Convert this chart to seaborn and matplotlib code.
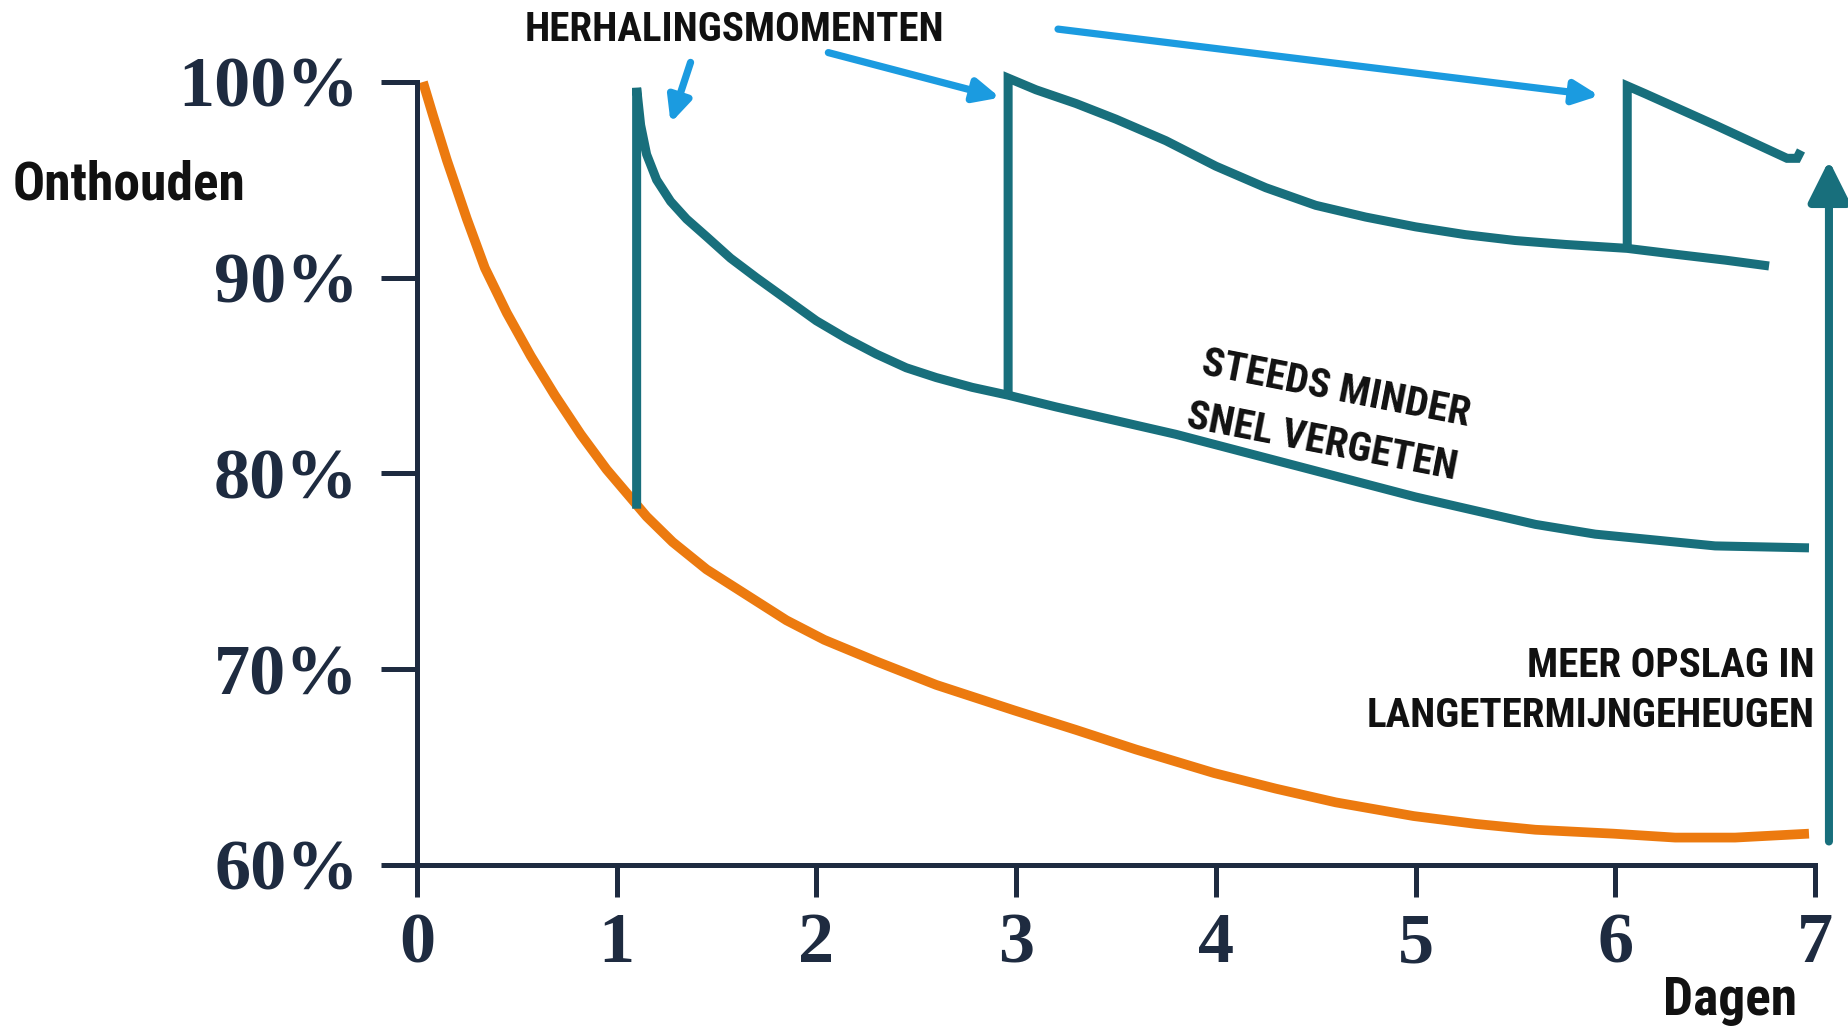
import matplotlib
matplotlib.use("Agg")
import matplotlib.pyplot as plt
import seaborn as sns
import pandas as pd

# ---------------- data ----------------
orange_days = [0.03, 0.08, 0.15, 0.25, 0.34, 0.45, 0.57, 0.69, 0.82, 0.95, 1.05, 1.15, 1.28,
               1.45, 1.65, 1.85, 2.04, 2.3, 2.6, 2.99, 3.3, 3.6, 3.99, 4.3, 4.6, 4.99, 5.3,
               5.6, 5.99, 6.3, 6.6, 6.97]
orange_vals = [100.0, 98.3, 96.0, 93.0, 90.5, 88.2, 86.0, 84.0, 82.0, 80.2, 79.0, 77.8, 76.5,
               75.1, 73.8, 72.5, 71.5, 70.4, 69.2, 67.9, 66.9, 65.9, 64.7, 63.9, 63.2, 62.5,
               62.1, 61.8, 61.6, 61.4, 61.4, 61.6]

teal_a_days = [1.10, 1.10, 1.12, 1.15, 1.2, 1.27, 1.35, 1.45, 1.57, 1.7, 1.85, 2.0, 2.15, 2.3,
               2.45, 2.6, 2.78, 2.96, 3.2, 3.5, 3.8, 4.1, 4.4, 4.7, 5.0, 5.3, 5.6, 5.9, 6.2,
               6.5, 6.97]
teal_a_vals = [78.2, 99.7, 97.8, 96.3, 95.0, 93.9, 93.0, 92.1, 91.0, 90.0, 88.9, 87.8, 86.9,
               86.1, 85.4, 84.9, 84.4, 84.0, 83.4, 82.7, 82.0, 81.2, 80.4, 79.6, 78.8, 78.1,
               77.4, 76.9, 76.6, 76.3, 76.2]

teal_b_days = [2.96, 2.96, 3.1, 3.3, 3.5, 3.75, 4.0, 4.25, 4.5, 4.75, 5.0, 5.25, 5.5, 5.75,
               6.06, 6.3, 6.55, 6.77]
teal_b_vals = [84.0, 100.2, 99.6, 98.9, 98.1, 97.0, 95.7, 94.6, 93.7, 93.1, 92.6, 92.2, 91.9,
               91.7, 91.5, 91.2, 90.9, 90.6]

teal_c_days = [6.06, 6.06, 6.15, 6.5, 6.86, 6.91, 6.93]
teal_c_vals = [91.5, 99.8, 99.4, 97.8, 96.1, 96.1, 96.5]

x_ticks = [0, 1, 2, 3, 4, 5, 6, 7]
y_ticks = [60, 70, 80, 90, 100]
y_tick_labels = ["60%", "70%", "80%", "90%", "100%"]

# long-term storage arrow (day, start %, end %)
storage_arrow = (7.07, 61.2, 96.0)
# review-moment arrows: (x_from, y_from, x_to, y_to)
review_arrows = [(1.37, 101.0, 1.27, 97.9),
                 (2.06, 101.5, 2.92, 99.2),
                 (3.21, 102.7, 5.92, 99.3)]

# ---------------- style ----------------
NAVY = "#1e2b40"
TEAL = "#186f7c"
ORANGE = "#ec7a0f"
BLUE = "#1b9be0"
ANN = ["Roboto Condensed", "DejaVu Sans"]
TICKF = ["Liberation Serif", "DejaVu Serif"]
TXT = dict(fontweight="bold", color="#111111", family=ANN, fontstretch="condensed")

sns.set_theme(style="white")
plt.rcParams["font.family"] = ANN

fig = plt.figure(figsize=(18.49, 10.29), dpi=100)
ax = fig.add_axes([0.2255, 0.1594, 0.7723, 0.818])

df_o = pd.DataFrame({"day": orange_days, "val": orange_vals})
sns.lineplot(data=df_o, x="day", y="val", ax=ax, sort=False, estimator=None,
             color=ORANGE, linewidth=7, solid_capstyle="butt", solid_joinstyle="round")
for d, v in [(teal_a_days, teal_a_vals), (teal_b_days, teal_b_vals), (teal_c_days, teal_c_vals)]:
    df = pd.DataFrame({"day": d, "val": v})
    sns.lineplot(data=df, x="day", y="val", ax=ax, sort=False, estimator=None,
                 color=TEAL, linewidth=6.5, solid_capstyle="butt", solid_joinstyle="miter")

ax.set_xlim(0, 7.15)
ax.set_ylim(60, 103)
ax.set_xlabel("")
ax.set_ylabel("")
for s in ["top", "right"]:
    ax.spines[s].set_visible(False)
for s in ["left", "bottom"]:
    ax.spines[s].set_color(NAVY)
    ax.spines[s].set_linewidth(3.6)
ax.spines["left"].set_bounds(60, 100)
ax.spines["bottom"].set_bounds(0, 7)

ax.set_xticks(x_ticks)
ax.set_xticklabels([str(t) for t in x_ticks])
ax.set_yticks(y_ticks)
ax.set_yticklabels(y_tick_labels)
ax.tick_params(axis="y", direction="out", length=26, width=3.6, color=NAVY, pad=16,
               left=True)
ax.tick_params(axis="x", direction="out", length=23, width=3.6, color=NAVY, pad=11,
               bottom=True)
for lab in ax.get_xticklabels() + ax.get_yticklabels():
    lab.set_family(TICKF)
    lab.set_fontweight("bold")
    lab.set_fontsize(52)
    lab.set_color(NAVY)

# storage arrow
x_s, y0, y1 = storage_arrow
ax.annotate("", xy=(x_s, y1), xytext=(x_s, y0), xycoords="data",
            arrowprops=dict(arrowstyle="-|>,head_length=25,head_width=12.5",
                            mutation_scale=1, color=TEAL, linewidth=5.8,
                            shrinkA=0, shrinkB=0),
            annotation_clip=False)
# review arrows
for xf, yf, xt, yt in review_arrows:
    ax.annotate("", xy=(xt, yt), xytext=(xf, yf), xycoords="data",
                arrowprops=dict(arrowstyle="-|>,head_length=15,head_width=7",
                                mutation_scale=1, color=BLUE, linewidth=5.2,
                                shrinkA=0, shrinkB=0),
                annotation_clip=False)

# texts
fig.text(0.397, 0.960, "HERHALINGSMOMENTEN", ha="center", va="baseline", fontsize=29.5, **TXT)
fig.text(0.007, 0.820, "Onthouden", ha="left", va="center", fontsize=38.5, **TXT)
fig.text(0.972, 0.0136, "Dagen", ha="right", va="baseline", fontsize=38.5, **TXT)
fig.text(0.9816, 0.342, "MEER OPSLAG IN", ha="right", va="baseline", fontsize=29.5, **TXT)
fig.text(0.9816, 0.2935, "LANGETERMIJNGEHEUGEN", ha="right", va="baseline", fontsize=29.5, **TXT)
ax.text(4.60, 84.3, "STEEDS MINDER", ha="center", va="center", rotation=-11,
        rotation_mode="anchor", fontsize=29.5, **TXT)
ax.text(4.53, 81.6, "SNEL VERGETEN", ha="center", va="center", rotation=-11,
        rotation_mode="anchor", fontsize=29.5, **TXT)

fig.savefig("out.png", dpi=100, facecolor="white")
